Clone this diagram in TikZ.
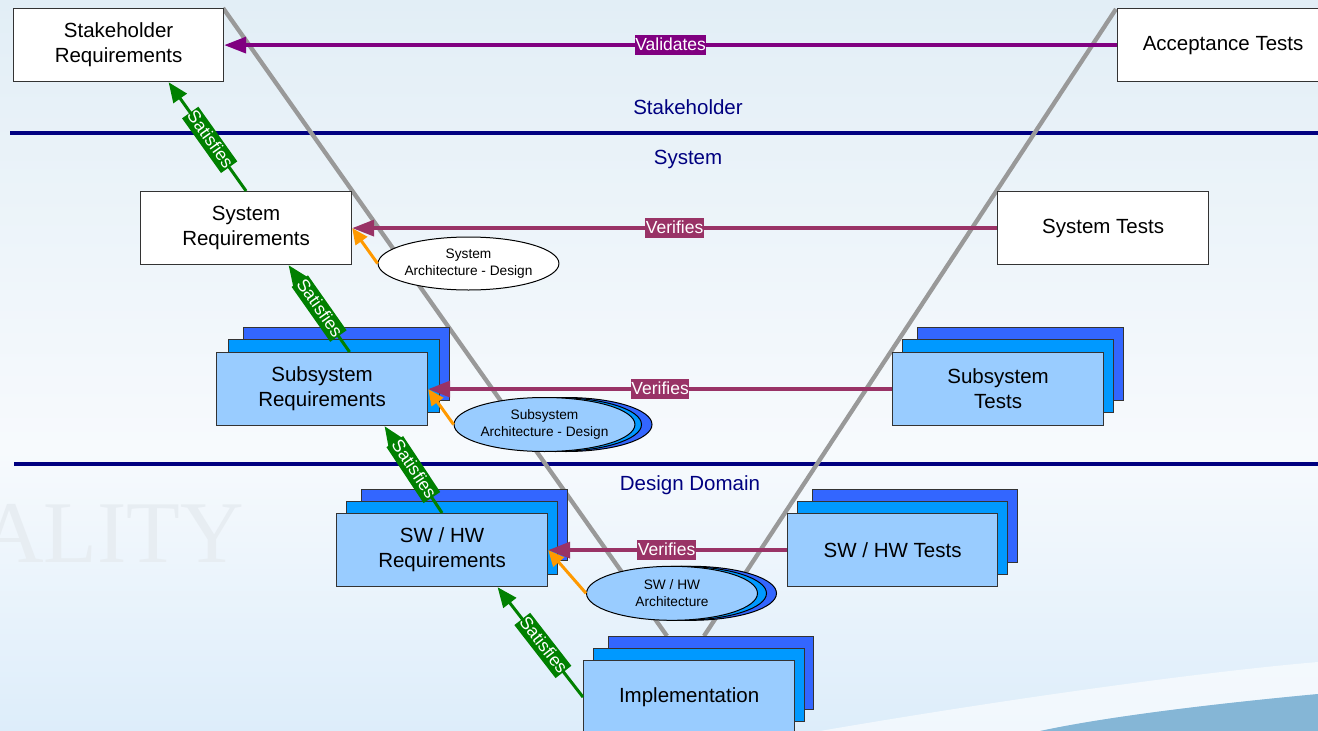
\documentclass[tikz,border=0pt]{standalone}
\usepackage{fontspec}
\setmainfont{Liberation Sans}
\newfontfamily\wmfont{Liberation Serif}
\usetikzlibrary{shapes.geometric,arrows.meta,calc}

\definecolor{bgtop}{RGB}{226,238,246}
\definecolor{bgmid}{RGB}{247,250,253}
\definecolor{bgbot}{RGB}{221,237,250}
\definecolor{navyline}{RGB}{0,0,128}
\definecolor{vgray}{RGB}{153,153,153}
\definecolor{valc}{RGB}{128,0,128}
\definecolor{verc}{RGB}{153,51,102}
\definecolor{satc}{RGB}{0,128,0}
\definecolor{archc}{RGB}{255,153,0}
\definecolor{lightbox}{RGB}{153,204,255}
\definecolor{midbox}{RGB}{0,153,255}
\definecolor{backbox}{RGB}{51,102,255}
\definecolor{wm}{RGB}{231,237,242}
\definecolor{swoosh}{RGB}{133,182,214}

\tikzset{
  box/.style={draw=black!80, line width=1.2pt, minimum width=211pt, minimum height=73pt,
    anchor=north west, align=center, inner sep=0pt, font=\fontsize{20.5}{25}\selectfont},
  whitebox/.style={box, fill=white},
  frontbox/.style={box, fill=lightbox},
  midlayer/.style={box, fill=midbox},
  backlayer/.style={box, fill=backbox},
  archell/.style={ellipse, draw=black, line width=1pt, minimum width=172pt, minimum height=54pt,
    inner sep=0pt, align=center, font=\fontsize{13.7}{17}\selectfont},
  lbl/.style={text=white, font=\fontsize{17.5}{20}\selectfont, inner xsep=0.5pt, inner ysep=1.5pt,
    text height=13.5pt, text depth=3.5pt},
  validates/.style={draw=valc, line width=3.5pt, -{Triangle[length=22pt,width=16pt]}},
  verifies/.style={draw=verc, line width=3.5pt, -{Triangle[length=22pt,width=16pt]}},
  satisfies/.style={draw=satc, line width=3pt, -{Triangle[length=20pt,width=16pt]}},
  archarrow/.style={draw=archc, line width=3pt, -{Triangle[length=16pt,width=14pt]}},
  domlabel/.style={text=navyline, font=\fontsize{20.5}{24}\selectfont, anchor=base, inner sep=0pt},
  domline/.style={draw=navyline, line width=3.2pt},
  vline/.style={draw=vgray, line width=4.3pt}
}

\begin{document}
\begin{tikzpicture}[x=1pt,y=-1pt]
\useasboundingbox (0,0) rectangle (1318,731);
% background
\shade[top color=bgtop, bottom color=bgmid] (0,0) rectangle (1318,450);
\shade[top color=bgmid, bottom color=bgbot] (0,450) rectangle (1318,731);
\fill[white, opacity=0.6] (820,731) .. controls (1000,700) and (1200,672) .. (1318,662)
   -- (1318,694) .. controls (1200,705) and (1100,718) .. (1040,731) -- cycle;
\fill[swoosh] (1040,731) .. controls (1100,718) and (1200,705) .. (1318,694) -- (1318,731) -- cycle;
\node[anchor=base west, text=wm, font=\wmfont\fontsize{88}{88}\selectfont, inner sep=0pt] (wmark) at (-20,562) {ALITY};

% domain separators
\coordinate (d1a) at (10,133);
\coordinate (d1b) at (1318,133);
\coordinate (d2a) at (14,464);
\coordinate (d2b) at (1318,464);
\draw[domline] (d1a) -- (d1b);
\draw[domline] (d2a) -- (d2b);
\node[domlabel] (lstake) at (688,114.5) {Stakeholder};
\node[domlabel] (lsys) at (688,164) {System};
\node[domlabel] (ldesign) at (690,490.5) {Design Domain};

% V lines
\coordinate (vLtop) at (223,8);
\coordinate (vLbot) at (667,636);
\coordinate (vRtop) at (1116,9);
\coordinate (vRbot) at (704,636);
\draw[vline] (vLtop) -- (vLbot);
\draw[vline] (vRtop) -- (vRbot);

% single boxes
\node[whitebox, minimum width=210pt] (stkreq) at (13,8) {Stakeholder\\Requirements};
\node[whitebox] (acc) at (1117,8) {Acceptance Tests};
\node[whitebox] (sysreq) at (140,191) {System\\Requirements};
\node[whitebox] (systest) at (997,191) {System Tests};

% stacked boxes
\node[backlayer, minimum width=206pt] (ssrB) at (243,327) {};
\node[midlayer] (ssrM) at (228,339) {};
\node[frontbox] (ssr) at (216,352) {Subsystem\\Requirements};

\node[backlayer, minimum width=206pt] (sstB) at (917,327) {};
\node[midlayer] (sstM) at (902,339) {};
\node[frontbox] (sst) at (892,352) {Subsystem\\Tests};

\node[backlayer, minimum width=206pt, minimum height=71pt] (swrB) at (361,489) {};
\node[midlayer] (swrM) at (346,501) {};
\node[frontbox] (swr) at (336,513) {SW / HW\\Requirements};

\node[backlayer, minimum width=205pt] (swtB) at (812,489) {};
\node[midlayer, minimum width=210pt] (swtM) at (797,501) {};
\node[frontbox, minimum width=210pt] (swt) at (787,513) {SW / HW Tests};

\node[backlayer, minimum width=205pt] (implB) at (608,636) {};
\node[midlayer] (implM) at (593,648) {};
\node[frontbox] (impl) at (583,660) {Implementation};

% architecture ellipses
\node[archell, fill=white, minimum width=177pt, minimum height=53pt] (sysarch) at (468.5,263.5) {System\\Architecture - Design};

\node[archell, fill=backbox] (ssaB) at (566,424.5) {};
\node[archell, fill=midbox] (ssaM) at (555.5,424.5) {};
\node[archell, fill=lightbox] (ssa) at (544.5,424.5) {Subsystem\\Architecture - Design};

\node[archell, fill=backbox, minimum width=171pt] (swaB) at (691,593.3) {};
\node[archell, fill=midbox, minimum width=171pt] (swaM) at (681,593.3) {};
\node[archell, fill=lightbox, minimum width=171pt] (swa) at (672,593.3) {SW / HW\\Architecture};

% relations
\draw[validates] (acc.west) -- node[lbl, fill=valc] (lval) {Validates} (stkreq.east);
\draw[verifies] (systest.west) -- node[lbl, fill=verc] (lver1) {Verifies} (sysreq.east);
\draw[verifies] (sst.west) -- node[lbl, fill=verc] (lver2) {Verifies} (ssr.east);
\draw[verifies] (swt.west) -- node[lbl, fill=verc, pos=0.504] (lver3) {Verifies} (swr.east);

\draw[satisfies] (sysreq.north) -- node[lbl, fill=satc, sloped, pos=0.47] (lsat1) {Satisfies} ($(stkreq.south)+(50,0)$);
\draw[satisfies] ($(ssr.north)+(27.5,0)$) -- node[lbl, fill=satc, sloped] (lsat2) {Satisfies} ($(sysreq.south)+(42.5,0)$);
\draw[satisfies] (swr.north) -- node[lbl, fill=satc, sloped] (lsat3) {Satisfies} ($(ssr.south)+(62.5,0)$);
\draw[satisfies] (impl.west) -- node[lbl, fill=satc, sloped, pos=0.47] (lsat4) {Satisfies} ($(swr.south)+(55.5,0)$);

\draw[archarrow] (sysarch.west) -- (sysreq.east);
\draw[archarrow] (ssa.west) -- (ssr.east);
\draw[archarrow] (swa.west) -- (swr.east);
\end{tikzpicture}
\end{document}
